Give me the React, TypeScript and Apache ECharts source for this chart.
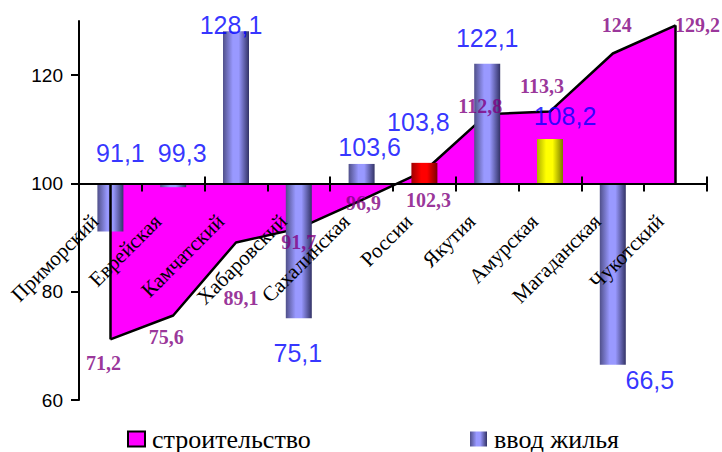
import React, { useEffect, useRef } from 'react';
import * as echarts from 'echarts';

const categories = ['Приморский', 'Еврейская', 'Камчатский', 'Хабаровский', 'Сахалинская', 'России', 'Якутия', 'Амурская', 'Магаданская', 'Чукотский'];
const construction = [71.2, 75.6, 89.1, 91.7, 96.9, 102.3, 112.8, 113.3, 124, 129.2];
const housing: (number | null)[] = [91.1, 99.3, 128.1, 75.1, 103.6, 103.8, 122.1, 108.2, 66.5, null];
const yTickValues = [60, 80, 100, 120];
const BASE = 100;
const Y_MIN = 60;
const Y_MAX = 130;

const constructionName = 'строительство';
const housingName = 'ввод жилья';

// label placement (pixels, relative to the data point)
const constructionLabelOffsets = [[-7, 24], [-7, 21], [5, 56], [0, 14], [2, 3], [4, 29], [-7, -8], [-8, -25], [4, -28], [22, 0]];
const housingLabelOffsets = [[10, -79], [9, -34], [-5, -6], [-1, 35], [8, -17], [-6, -41], [0, -26], [15, -23], [37, 15], [0, 0]];

const fmt = (v: number) => String(v).replace('.', ',');

const grad = (stops: [number, string][]) =>
  new echarts.graphic.LinearGradient(0, 0, 1, 0, stops.map(([offset, color]) => ({ offset, color })));

const blueGrad = () => grad([[0, '#50508a'], [0.38, '#9999ff'], [0.6, '#9999ff'], [1, '#333366']]);
const specialBarColors: Record<string, () => any> = {
  'России': () => grad([[0, '#a00000'], [0.38, '#ff0000'], [0.6, '#ff0000'], [1, '#7a0000']]),
  'Амурская': () => grad([[0, '#b0b000'], [0.35, '#ffff00'], [0.6, '#ffff00'], [1, '#7a7a00']]),
};

const serif = '"Times New Roman", "Liberation Serif", serif';
const sans = 'Arial, "Liberation Sans", sans-serif';

const GRID = { left: 79, right: 15, top: 21, bottom: 52 };
const CHART_H = 452;

export default function App() {
  const ref = useRef<HTMLDivElement>(null);
  useEffect(() => {
    if (!ref.current) return;
    const chart = echarts.init(ref.current, undefined, { renderer: 'svg' });

    const areaData = construction.map((v) => v - BASE);
    const barData = housing.map((v, i) => {
      if (v == null) return '-';
      const make = specialBarColors[categories[i]];
      return make ? { value: v - BASE, itemStyle: { color: make() } } : v - BASE;
    });
    const areaLabels = construction.map((v, i) => ({
      value: v - BASE,
      label: { offset: constructionLabelOffsets[i], formatter: () => fmt(v) },
    }));
    const barLabels = housing.map((v, i) =>
      v == null
        ? { value: '-' }
        : { value: v - BASE, label: { offset: housingLabelOffsets[i], formatter: () => fmt(v) } }
    );

    const last = construction.length - 1;
    // labels of an on-zero axis are anchored at the grid edge; bring them back up to the axis line
    const plotH = CHART_H - GRID.top - GRID.bottom;
    const zeroToBottom = ((BASE - Y_MIN) / (Y_MAX - Y_MIN)) * plotH;
    const labelGap = 19;

    const option: any = {
      animation: false,
      backgroundColor: '#ffffff',
      grid: { ...GRID, containLabel: false, outerBoundsMode: 'none' },
      legend: [
        {
          data: [constructionName],
          left: 127,
          top: 426,
          padding: 0,
          itemWidth: 17,
          itemHeight: 15,
          icon: 'rect',
          selectedMode: false,
          itemStyle: { borderColor: '#000', borderWidth: 2 },
          textStyle: { fontFamily: serif, fontSize: 26, color: '#000', padding: [0, 0, 0, 2] },
        },
        {
          data: [housingName],
          left: 470,
          top: 426,
          padding: 0,
          itemWidth: 17,
          itemHeight: 15,
          icon: 'rect',
          selectedMode: false,
          itemStyle: { borderWidth: 0 },
          textStyle: { fontFamily: serif, fontSize: 26, color: '#000', padding: [0, 0, 0, 2] },
        },
      ],
      xAxis: [
        {
          type: 'category',
          data: categories,
          position: 'bottom',
          boundaryGap: true,
          z: 10,
          axisLine: { show: true, onZero: true, onZeroAxisIndex: 0, lineStyle: { color: '#000', width: 2 } },
          axisTick: { show: true, length: 8, lineStyle: { color: '#000', width: 2 } },
          axisLabel: {
            interval: 0,
            rotate: 45,
            margin: labelGap - zeroToBottom,
            padding: [0, 22, 0, 0],
            fontFamily: serif,
            fontSize: 21,
            color: '#000',
          },
          splitLine: { show: false },
        },
        {
          type: 'category',
          data: categories,
          position: 'top',
          boundaryGap: true,
          z: 10,
          axisLine: { show: false, onZero: true, onZeroAxisIndex: 0 },
          axisTick: { show: true, length: 7, lineStyle: { color: '#000', width: 2 } },
          axisLabel: { show: false },
          splitLine: { show: false },
        },
      ],
      yAxis: {
        type: 'value',
        min: Y_MIN - BASE,
        max: Y_MAX - BASE,
        interval: 20,
        axisLine: { show: true, onZero: false, lineStyle: { color: '#000', width: 2 } },
        axisTick: {
          show: true,
          length: 8,
          lineStyle: { color: '#000', width: 2 },
          customValues: yTickValues.map((v) => v - BASE),
        },
        axisLabel: {
          margin: 16,
          fontFamily: sans,
          fontSize: 19,
          color: '#000',
          customValues: yTickValues.map((v) => v - BASE),
          formatter: (v: number) => String(v + BASE),
        },
        splitLine: { show: false },
      },
      series: [
        {
          name: constructionName,
          type: 'line',
          data: areaData,
          symbol: 'none',
          z: 2,
          itemStyle: { color: '#ff00ff' },
          lineStyle: { color: '#000', width: 2.5 },
          areaStyle: { color: '#ff00ff', opacity: 1, origin: 0 },
          markLine: {
            silent: true,
            symbol: ['none', 'none'],
            label: { show: false },
            lineStyle: { color: '#000', width: 2.5, type: 'solid' },
            data: [
              [{ coord: [0, 0] }, { coord: [0, construction[0] - BASE] }],
              [{ coord: [last, 0] }, { coord: [last, construction[last] - BASE] }],
            ],
          },
        },
        {
          name: housingName,
          type: 'bar',
          data: barData,
          barWidth: 26,
          z: 3,
          itemStyle: { color: blueGrad() },
        },
        {
          name: 'construction-labels',
          type: 'scatter',
          data: areaLabels,
          symbolSize: 1,
          z: 12,
          itemStyle: { color: 'rgba(0,0,0,0)' },
          label: {
            show: true,
            position: 'inside',
            fontFamily: serif,
            fontWeight: 'bold',
            fontSize: 20,
            color: '#800080',
          },
        },
        {
          name: 'housing-labels',
          type: 'scatter',
          data: barLabels,
          symbolSize: 1,
          z: 12,
          itemStyle: { color: 'rgba(0,0,0,0)' },
          label: {
            show: true,
            position: 'inside',
            fontFamily: sans,
            fontSize: 25,
            color: '#0000ff',
          },
        },
      ],
    };
    chart.setOption(option);
    return () => chart.dispose();
  }, []);
  return <div ref={ref} style={{ position: 'fixed', left: 0, top: 0, width: 722, height: 452 }} />;
}
